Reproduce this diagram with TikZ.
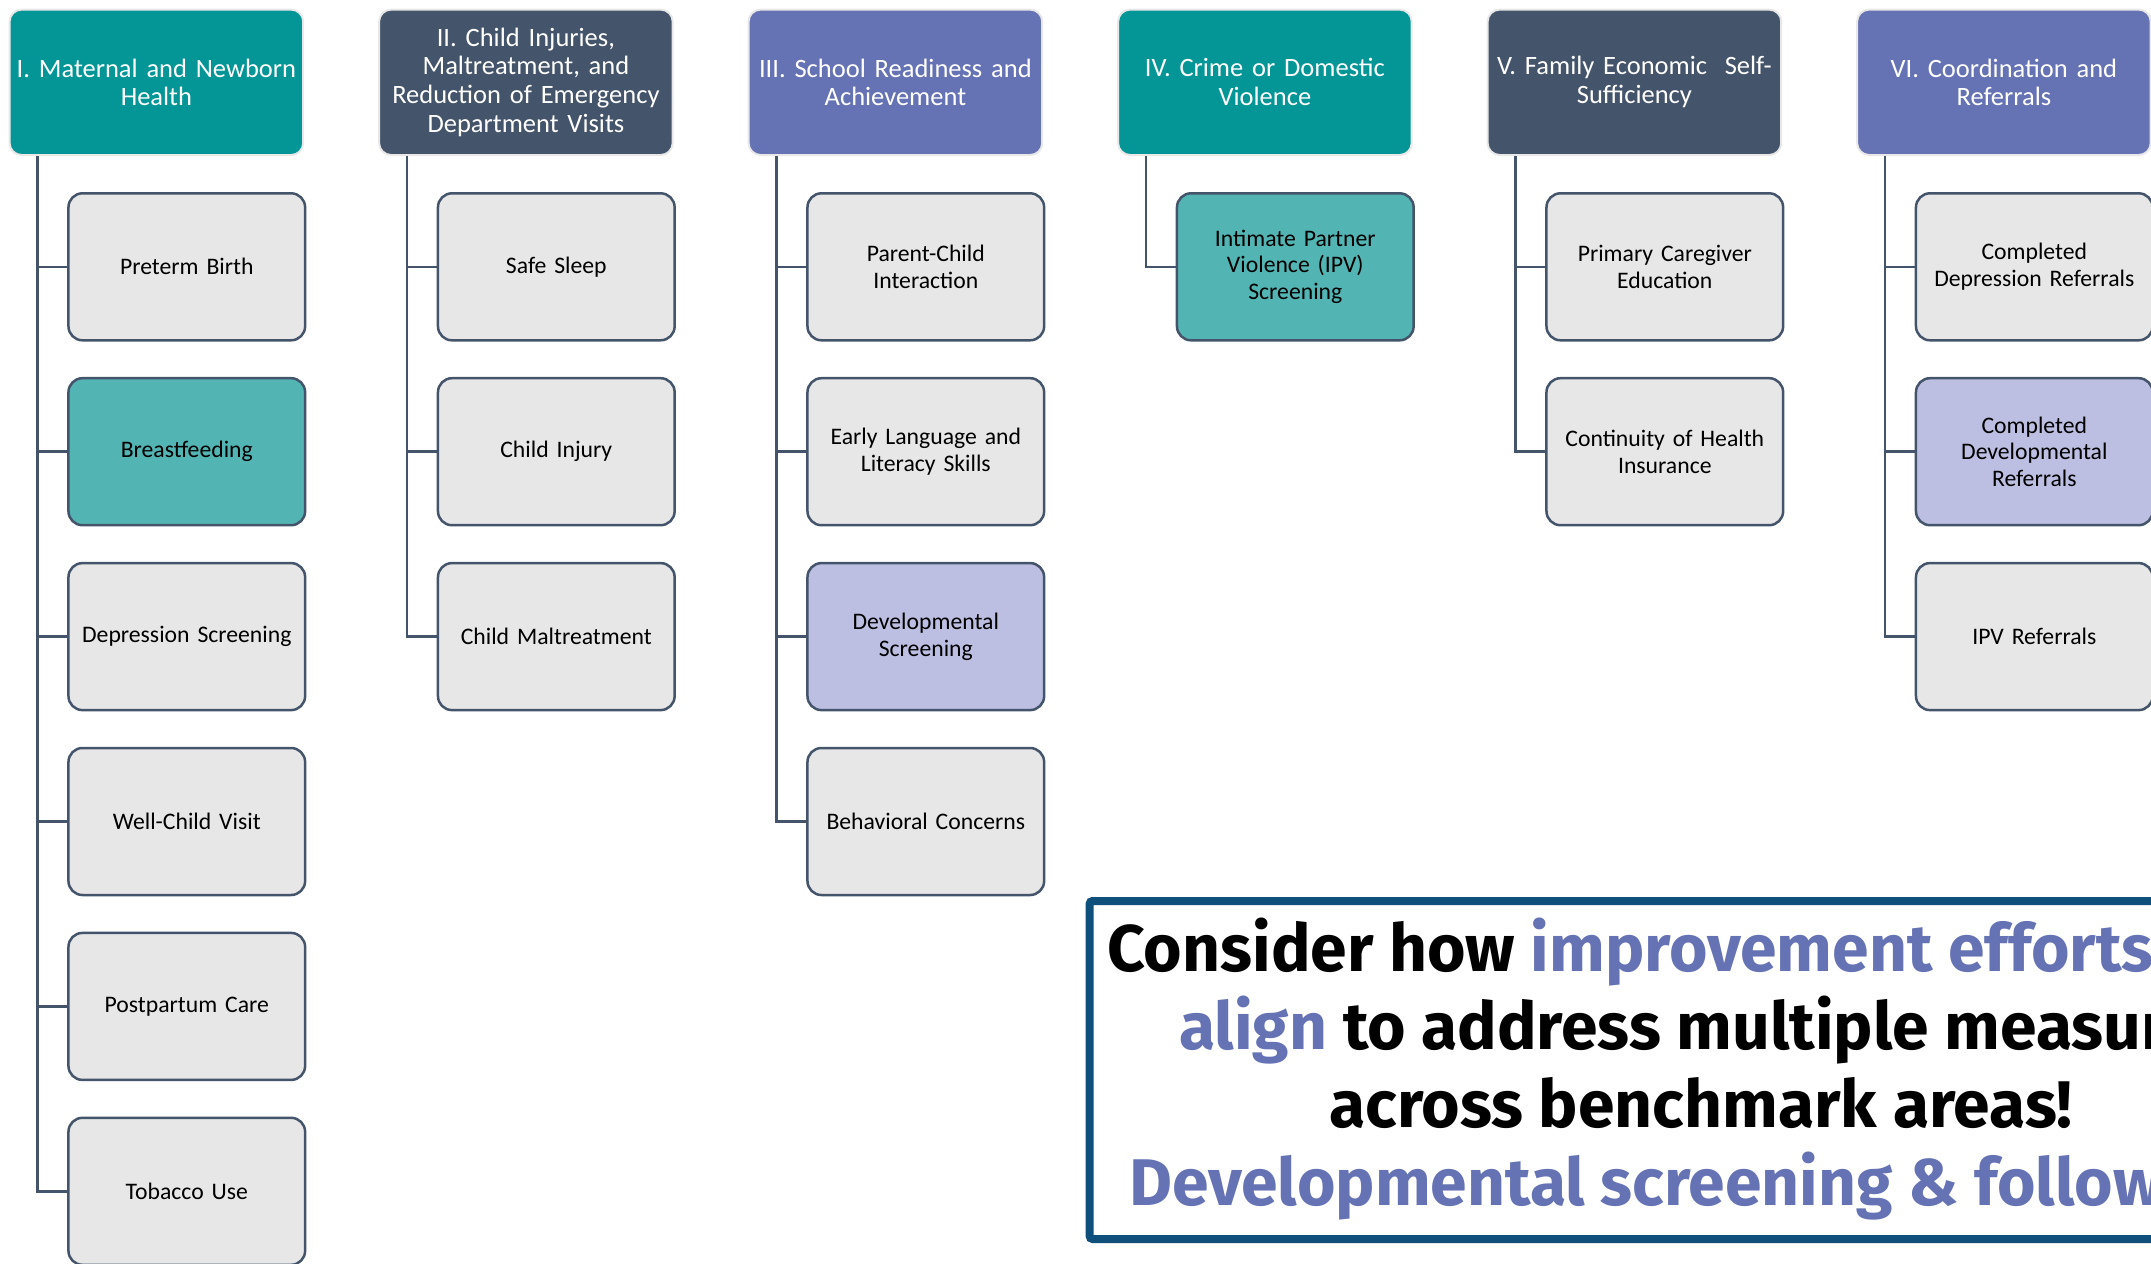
\documentclass[tikz,border=0pt]{standalone}
\usepackage{fontspec}
\setmainfont{Carlito}
\newfontfamily\calloutfont{Fira Sans}
\usepackage{tikz}
\usetikzlibrary{positioning}

\definecolor{tealhead}{RGB}{4,149,150}
\definecolor{slatehead}{RGB}{68,84,106}
\definecolor{bluehead}{RGB}{101,114,180}
\definecolor{tealbox}{RGB}{83,181,179}
\definecolor{lavbox}{RGB}{188,191,225}
\definecolor{graybox}{RGB}{231,231,231}
\definecolor{calloutblue}{RGB}{14,79,124}

\begin{document}
\begin{tikzpicture}[x=1pt, y=-1pt,
  head/.style={draw=gray!18, line width=2pt, rounded corners=12pt, minimum width=293.6pt, minimum height=145.4pt, text width=285pt, align=center, text=white, font=\fontsize{26.5}{28.8}\selectfont},
  measure/.style={draw=slatehead, line width=2.5pt, rounded corners=14pt, fill=graybox, minimum width=236pt, minimum height=147pt, text width=230pt, align=center, font=\fontsize{23.7}{26.7}\selectfont},
  link/.style={draw=slatehead, line width=2.6pt},
  callline/.style={inner sep=0pt, anchor=base west, font=\calloutfont\bfseries\fontsize{66}{78}\selectfont}]

\useasboundingbox (0,0) rectangle (2151,1263);
\clip (0,0) rectangle (2151,1263);

% benchmark areas
\node[head, fill=tealhead]  at (156.4,82.3)  (hI)   {I. Maternal and Newborn\\ Health};
\node[head, fill=slatehead] at (525.9,82.3)  (hII)  {II. Child Injuries,\\ Maltreatment, and\\ Reduction of Emergency\\ Department Visits};
\node[head, fill=bluehead]  at (895.4,82.3)  (hIII) {III. School Readiness and\\ Achievement};
\node[head, fill=tealhead]  at (1264.9,82.3) (hIV)  {IV. Crime or Domestic\\ Violence};
\node[head, fill=slatehead] at (1634.4,82.3) (hV)   {V. Family Economic~ Self-\\ Sufficiency};
\node[head, fill=bluehead]  at (2003.9,82.3) (hVI)  {VI. Coordination and\\ Referrals};

% I
\node[measure] at (186.8,266.8) (pretermbirth) {Preterm Birth};
\node[measure, fill=tealbox, below=35.4pt of pretermbirth] (breastfeeding) {Breastfeeding};
\node[measure, below=35.4pt of breastfeeding] (depscreen) {Depression Screening};
\node[measure, below=35.4pt of depscreen] (wellchild) {Well-Child Visit};
\node[measure, below=35.4pt of wellchild] (postpartum) {Postpartum Care};
\node[measure, below=35.4pt of postpartum] (tobacco) {Tobacco Use};

% II
\node[measure] at (556.3,266.8) (safesleep) {Safe Sleep};
\node[measure, below=35.4pt of safesleep] (childinjury) {Child Injury};
\node[measure, below=35.4pt of childinjury] (maltreat) {Child Maltreatment};

% III
\node[measure] at (925.8,266.8) (parentchild) {Parent-Child\\ Interaction};
\node[measure, below=35.4pt of parentchild] (earlylang) {Early Language and\\ Literacy Skills};
\node[measure, fill=lavbox, below=35.4pt of earlylang] (devscreen) {Developmental\\ Screening};
\node[measure, below=35.4pt of devscreen] (behavior) {Behavioral Concerns};

% IV
\node[measure, fill=tealbox] at (1295.3,266.8) (ipvscreen) {Intimate Partner\\ Violence (IPV)\\ Screening};

% V
\node[measure] at (1664.8,266.8) (caregiver) {Primary Caregiver\\ Education};
\node[measure, below=35.4pt of caregiver] (insurance) {Continuity of Health\\ Insurance};

% VI
\node[measure] at (2034.3,266.8) (depref) {Completed\\ Depression Referrals};
\node[measure, fill=lavbox, below=35.4pt of depref] (devref) {Completed\\ Developmental\\ Referrals};
\node[measure, below=35.4pt of devref] (ipvref) {IPV Referrals};

% connectors
\foreach \h/\c in {hI/pretermbirth, hI/breastfeeding, hI/depscreen, hI/wellchild, hI/postpartum, hI/tobacco,
                   hII/safesleep, hII/childinjury, hII/maltreat,
                   hIII/parentchild, hIII/earlylang, hIII/devscreen, hIII/behavior,
                   hIV/ipvscreen, hV/caregiver, hV/insurance,
                   hVI/depref, hVI/devref, hVI/ipvref} {
   \draw[link] (\h.south west) ++(28.8,0) |- (\c.west);
}

% callout
\node[draw=calloutblue, fill=white, line width=8pt, rounded corners=3pt, outer sep=0pt, anchor=north west, minimum width=1220pt, minimum height=338pt] at (1089.6,901) (callout) {};
\node[callline] at (1107,971.4) (calloutA) {Consider how \textcolor{bluehead}{improvement efforts}};
\node[callline] at (1179,1049.3) (calloutB) {\textcolor{bluehead}{align} to address multiple measures};
\node[callline] at (1329,1127.3) (calloutC) {across benchmark areas!};
\node[callline, text=bluehead] at (1129,1205.3) (calloutD) {Developmental screening \& follow-up};
\end{tikzpicture}
\end{document}
